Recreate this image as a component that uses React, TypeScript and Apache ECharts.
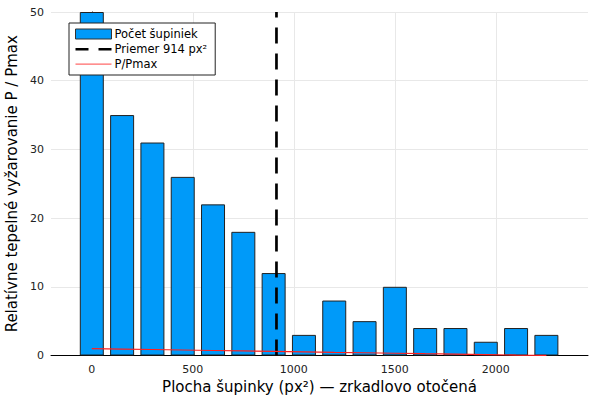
import { useEffect, useRef } from 'react';
import * as echarts from 'echarts';

// stred každého binu (px²) a počty šupiniek
const binCenters = [0, 150, 300, 450, 600, 750, 900, 1050, 1200, 1350, 1500, 1650, 1800, 1950, 2100, 2250];
const counts = [50, 35, 31, 26, 22, 18, 12, 3, 8, 5, 10, 4, 4, 2, 4, 3];
const ratio = [1.0, 0.93, 0.87, 0.8, 0.73, 0.66, 0.6, 0.53, 0.46, 0.4, 0.33, 0.26, 0.2, 0.13, 0.06, 0.01];
const meanArea = 914;
const xTicks = [0, 500, 1000, 1500, 2000];
const yTicks = [0, 10, 20, 30, 40, 50];

const FONT = 'DejaVu Sans';

// ikony legendy (čiarkovaná a plná čiara), M body držia výšku boxu
const dashIcon = 'path://M0,0 M0,4h13v2.6h-13z M23,4h13v2.6h-13z M36,10';
const lineIcon = 'path://M0,0 M0,4.5h36v1.2h-36z M36,10';

export default function App() {
  const chartRef = useRef<HTMLDivElement>(null);

  useEffect(() => {
    if (!chartRef.current) return;
    const chart = echarts.init(chartRef.current, null, { renderer: 'svg' });

    const option: echarts.EChartsOption = {
      animation: false,
      backgroundColor: '#fff',
      textStyle: { fontFamily: FONT },
      grid: { left: 51, right: 12, top: 12, bottom: 44.5, outerBoundsMode: 'none' } as any,
      legend: {
        orient: 'vertical',
        left: 69,
        top: 23,
        padding: [5, 8, 5, 6],
        itemGap: 3,
        itemWidth: 36,
        itemHeight: 10,
        borderColor: '#222',
        borderWidth: 1,
        borderRadius: 0,
        backgroundColor: '#fff',
        textStyle: { fontFamily: FONT, fontSize: 11.5, color: '#000', padding: [0, 0, 0, -2] },
        data: [
          { name: 'Počet šupiniek', icon: 'rect', itemStyle: { borderWidth: 1, borderColor: '#333' } },
          { name: 'Priemer 914 px²', icon: dashIcon },
          { name: 'P/Pmax', icon: lineIcon, itemStyle: { color: '#ff6a6a' } },
        ],
      },
      xAxis: {
        type: 'value',
        min: -202,
        max: 2456,
        name: 'Plocha šupinky (px²) — zrkadlovo otočená',
        nameLocation: 'middle',
        nameGap: 21,
        nameTextStyle: { fontFamily: FONT, fontSize: 15, color: '#000' },
        axisLine: { show: true, onZero: false, lineStyle: { color: '#000', width: 1 } },
        axisTick: { show: true, inside: true, length: 4, customValues: xTicks, lineStyle: { color: '#000' } },
        axisLabel: {
          customValues: xTicks,
          formatter: (v: number) => String(v),
          fontFamily: FONT,
          fontSize: 11,
          color: '#222',
          margin: 8,
        },
        splitLine: { show: true, lineStyle: { color: '#e8e8e8', width: 1 } },
      },
      yAxis: {
        type: 'value',
        min: 0,
        max: 50,
        interval: 10,
        name: 'Relatívne tepelné vyžarovanie P / Pmax',
        nameLocation: 'middle',
        nameGap: 29,
        nameTextStyle: { fontFamily: FONT, fontSize: 15, color: '#000' },
        axisLine: { show: true, lineStyle: { color: '#000', width: 1 } },
        axisTick: { show: true, inside: true, length: 4, lineStyle: { color: '#000' } },
        axisLabel: { fontFamily: FONT, fontSize: 11, color: '#222', margin: 7, customValues: yTicks },
        splitLine: { show: true, lineStyle: { color: '#e8e8e8', width: 1 } },
      },
      series: [
        {
          name: 'Počet šupiniek',
          type: 'bar',
          barWidth: 24,
          data: binCenters.map((x, i) => [x, counts[i]]),
          itemStyle: { color: '#009AF9', borderColor: '#222', borderWidth: 1 },
        },
        {
          name: 'Priemer 914 px²',
          type: 'line',
          symbol: 'none',
          data: [
            [meanArea, 0],
            [meanArea, 50],
          ],
          lineStyle: { color: '#000', width: 2.7, type: [16, 10] },
          itemStyle: { color: '#000' },
        },
        {
          name: 'P/Pmax',
          type: 'line',
          symbol: 'none',
          data: binCenters.map((x, i) => [x, ratio[i]]),
          lineStyle: { color: '#ff2020', width: 1.2 },
          itemStyle: { color: '#ff2020' },
        },
      ],
    };

    chart.setOption(option);
    return () => chart.dispose();
  }, []);

  return <div ref={chartRef} style={{ width: 600, height: 400, position: 'absolute', left: 0, top: 0 }} />;
}
